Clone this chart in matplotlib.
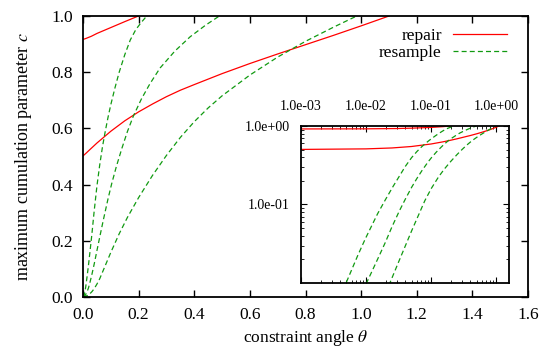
import numpy as np
import matplotlib
matplotlib.use("Agg")
import matplotlib.pyplot as plt
from matplotlib.ticker import FuncFormatter, FixedLocator, LogLocator, NullFormatter

plt.rcParams['font.family'] = ['Liberation Serif', 'DejaVu Serif']
plt.rcParams['mathtext.fontset'] = 'stix'

# curves (theta, c)
repair1_theta = [0.0, 0.001, 0.01, 0.03, 0.05, 0.1, 0.15, 0.199]
repair1_c = [0.917, 0.917, 0.92, 0.928, 0.938, 0.959, 0.98, 1.0]

repair2_theta = [0.0, 0.001, 0.01, 0.025, 0.05, 0.1, 0.15, 0.2, 0.25, 0.3, 0.35, 0.4, 0.5, 0.6,
                 0.7, 0.8, 0.9, 1.0, 1.1]
repair2_c = [0.502, 0.503, 0.511, 0.525, 0.548, 0.59, 0.627, 0.659, 0.687, 0.713, 0.736, 0.756, 0.795, 0.831,
             0.865, 0.898, 0.931, 0.965, 1.0]

resample1_theta = [0.0, 0.004, 0.0049, 0.0075, 0.0098, 0.015, 0.0198, 0.026, 0.0325, 0.04, 0.05, 0.06, 0.07,
                   0.08, 0.09, 0.1, 0.115, 0.13, 0.15, 0.17, 0.19, 0.21, 0.229]
resample1_c = [0.0, 0.0066, 0.0099, 0.0227, 0.037, 0.076, 0.115, 0.17, 0.23, 0.305, 0.395, 0.47, 0.535,
               0.59, 0.64, 0.685, 0.745, 0.80, 0.862, 0.915, 0.952, 0.978, 1.0]

resample2_theta = [0.0, 0.008, 0.0101, 0.015, 0.0198, 0.025, 0.0325, 0.0403, 0.05, 0.06, 0.073, 0.09, 0.103,
                   0.12, 0.14, 0.16, 0.181, 0.21, 0.24, 0.277, 0.33, 0.385, 0.44, 0.49]
resample2_c = [0.0, 0.0063, 0.0099, 0.02, 0.033, 0.052, 0.083, 0.118, 0.165, 0.213, 0.274, 0.35, 0.403,
               0.465, 0.53, 0.59, 0.644, 0.705, 0.758, 0.815, 0.875, 0.926, 0.967, 1.0]

resample3_theta = [0.0, 0.018, 0.0231, 0.0325, 0.0403, 0.05, 0.06, 0.08, 0.1, 0.13, 0.16, 0.2, 0.25, 0.3,
                   0.35, 0.4, 0.45, 0.5, 0.6, 0.7, 0.8, 0.9, 0.984]
resample3_c = [0.0, 0.006, 0.0099, 0.0196, 0.03, 0.046, 0.065, 0.112, 0.159, 0.225, 0.284, 0.354, 0.433, 0.504,
               0.568, 0.624, 0.673, 0.716, 0.79, 0.854, 0.91, 0.96, 1.0]

repair = [(repair1_theta, repair1_c), (repair2_theta, repair2_c)]
resample = [(resample1_theta, resample1_c), (resample2_theta, resample2_c), (resample3_theta, resample3_c)]

red = '#ff0000'
green = '#119a11'

fig = plt.figure(figsize=(5.43, 3.53), dpi=100)
ax = fig.add_axes([0.1529, 0.1586, 0.8195, 0.796])

for i, (t, c) in enumerate(repair):
    ax.plot(t, c, color=red, lw=0.9, label='repair' if i == 0 else None)
for i, (t, c) in enumerate(resample):
    ax.plot(t, c, color=green, lw=0.9, dashes=(4, 2.5), label='resample' if i == 0 else None)

ax.set_xlim(0, 1.6)
ax.set_ylim(0, 1.0)
ax.set_xticks(np.arange(0, 1.61, 0.2))
ax.set_yticks(np.arange(0, 1.01, 0.2))
ax.xaxis.set_major_formatter(FuncFormatter(lambda v, p: '%.1f' % v))
ax.yaxis.set_major_formatter(FuncFormatter(lambda v, p: '%.1f' % v))
ax.tick_params(direction='in', length=5, width=1, labelsize=12.5, top=True, right=True, pad=7)
for s in ax.spines.values():
    s.set_linewidth(1.3)
ax.set_xlabel(r'constraint angle $\theta$', fontsize=12.5, labelpad=4)
ax.set_ylabel(r'maximum cumulation parameter $c$', fontsize=13, labelpad=13)

leg = ax.legend(loc='upper right', bbox_to_anchor=(0.972, 0.988), frameon=False, fontsize=12.5,
                borderpad=0, handlelength=3.1, handletextpad=0.65, labelspacing=0.05,
                markerfirst=False)

# inset, log-log
ins = fig.add_axes([0.5543, 0.1983, 0.3831, 0.4448])
ins.set_facecolor('white')
for t, c in repair:
    ins.plot(t[1:], c[1:], color=red, lw=0.9)
for t, c in resample:
    ins.plot(t[1:], c[1:], color=green, lw=0.9, dashes=(4, 2.5))
ins.set_xscale('log')
ins.set_yscale('log')
ins.set_xlim(1e-3, 1.57)
ins.set_ylim(0.01, 1.0)
ins.xaxis.set_major_locator(FixedLocator([1e-3, 1e-2, 1e-1, 1.0]))
ins.yaxis.set_major_locator(FixedLocator([0.1, 1.0]))
ins.xaxis.set_minor_locator(LogLocator(base=10, subs=np.arange(2, 10)))
ins.yaxis.set_minor_locator(LogLocator(base=10, subs=np.arange(2, 10)))
ins.xaxis.set_minor_formatter(NullFormatter())
ins.yaxis.set_minor_formatter(NullFormatter())
fmt = FuncFormatter(lambda v, p: '%.1e' % v)
ins.xaxis.set_major_formatter(fmt)
ins.yaxis.set_major_formatter(fmt)
ins.tick_params(which='both', direction='in', top=True, right=True, bottom=True, left=True,
                labeltop=True, labelbottom=False, labelsize=10)
ins.tick_params(which='major', length=4, width=0.8)
ins.tick_params(which='minor', length=2, width=0.6)
ins.tick_params(axis='x', pad=9)
ins.tick_params(axis='y', pad=8)
for s in ins.spines.values():
    s.set_linewidth(1.3)

fig.savefig('out.png', dpi=100)
